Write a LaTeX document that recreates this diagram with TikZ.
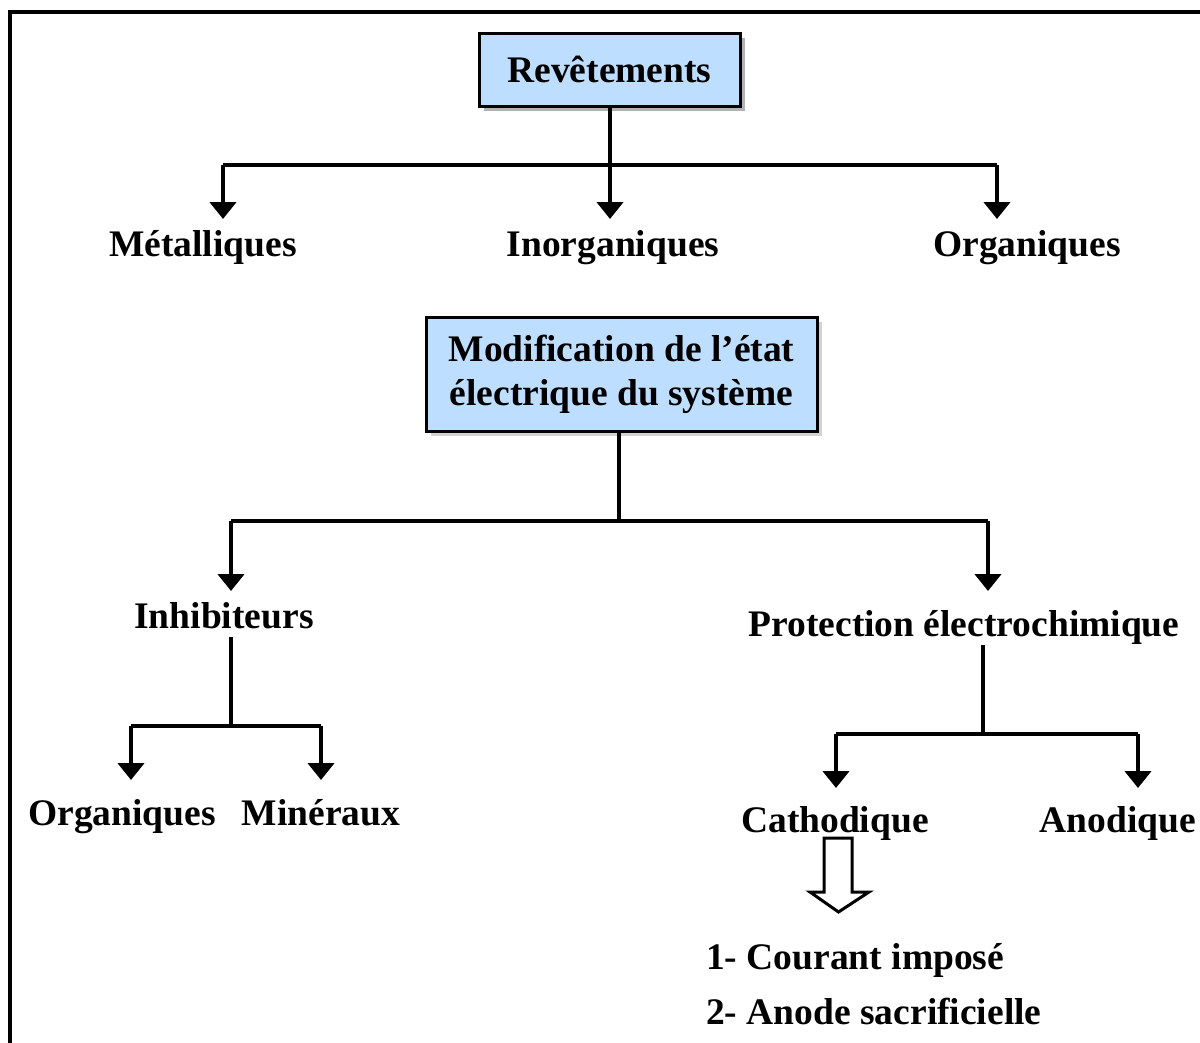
\documentclass[tikz,border=0pt]{standalone}
\usepackage{fontspec}
\setmainfont{Liberation Serif}
\usetikzlibrary{arrows.meta}
\definecolor{boxblue}{RGB}{190,222,255}
\begin{document}
\begin{tikzpicture}[x=1pt,y=-1pt,
  ln/.style={line width=4.5pt},
  arr/.style={line width=4.5pt,-{Triangle[width=26pt,length=17pt]}},
  lab/.style={font=\fontsize{37.5}{44}\selectfont\bfseries, inner sep=0pt,
    text height=27pt, text depth=9pt},
  box/.style={draw,line width=3pt,fill=boxblue,align=center,inner sep=0pt,
    font=\fontsize{37.5}{44}\selectfont\bfseries},
  hollow/.style={draw,line width=3pt,fill=white,line join=miter}]
\useasboundingbox (0,0) rectangle (1200,1042);
% frame
\draw[line width=4pt] (10,1050) -- (10,12) -- (1210,12);

% box 1
\fill[gray!60] (484,38) rectangle (745,111);
\node[box,minimum width=261pt,minimum height=73pt] (rev) at (609.5,69.5) {Rev\^etements};

% labels row 1
\node[lab] (met) at (203,247) {Métalliques};
\node[lab] (inorg) at (613,247) {Inorganiques};
\node[lab] (org) at (1027,247) {Organiques};
\coordinate (busL) at (223,165);
\coordinate (busR) at (997,165);
\coordinate (busC) at (610,165);
\coordinate (t1) at (223,219);
\coordinate (t2) at (610,219);
\coordinate (t3) at (997,219);
\draw[ln] (busL) -- (busR);
\draw[arr] (rev.south -| busC) -- (t2);
\draw[arr] (busL) -- (t1);
\draw[arr] (busR) -- (t3);

% box 2
\fill[gray!35] (431,322) rectangle (822,436);
\node[box,minimum width=391pt,minimum height=114pt] (mod) at (621.5,374)
  {Modification de l’état\\électrique du système};

\coordinate (m1) at (619,521);
\coordinate (m1L) at (231,521);
\coordinate (m1R) at (988,521);
\coordinate (tInh) at (231,591);
\coordinate (tPro) at (988,591);
\draw[ln] (mod.south -| m1) -- (m1);
\draw[ln] (m1L) -- (m1R);
\draw[arr] (m1L) -- (tInh);
\draw[arr] (m1R) -- (tPro);

\node[lab] (inh) at (224,619) {Inhibiteurs};
\node[lab] (pro) at (964,627) {Protection électrochimique};

% inhibiteurs branch
\coordinate (iB) at (231,726);
\coordinate (iBL) at (131,726);
\coordinate (iBR) at (321,726);
\coordinate (tO) at (131,780);
\coordinate (tM) at (321,780);
\draw[ln] (inh.south -| iB) -- (iB);
\draw[ln] (iBL) -- (iBR);
\draw[arr] (iBL) -- (tO);
\draw[arr] (iBR) -- (tM);
\node[lab] (org2) at (122,816) {Organiques};
\node[lab] (min) at (321,816) {Minéraux};

% protection branch
\coordinate (pB) at (983,734);
\coordinate (pBL) at (836,734);
\coordinate (pBR) at (1138,734);
\coordinate (tC) at (836,788);
\coordinate (tA) at (1138,788);
\draw[ln] (pro.south -| pB) -- (pB);
\draw[ln] (pBL) -- (pBR);
\draw[arr] (pBL) -- (tC);
\draw[arr] (pBR) -- (tA);
\node[lab] (cat) at (835,823) {Cathodique};
\node[lab] (ano) at (1118,823) {Anodique};

% hollow arrow
\draw[hollow] (824,838) -- (852,838) -- (852,892) -- (869,892) -- (838.5,912)
  -- (810,892) -- (824,892) -- cycle;

\node[lab,anchor=west] (c1) at (706,960) {1- Courant imposé};
\node[lab,anchor=west] (c2) at (706,1015) {2- Anode sacrificielle};
\end{tikzpicture}
\end{document}
